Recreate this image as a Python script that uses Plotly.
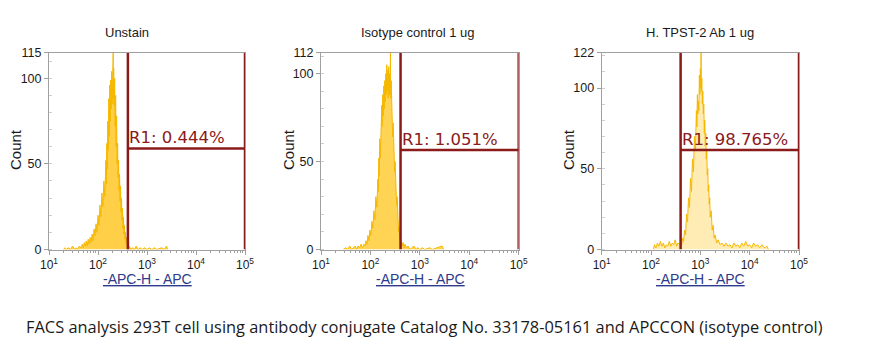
import plotly.graph_objects as go

# ---------------- data ----------------
titles = ["Unstain", "Isotype control 1 ug", "H. TPST-2 Ab 1 ug"]
ymax = [115, 112, 122]
gate_lo_log = [2.61, 2.61, 2.60]
gate_hi_log = [5.0, 5.0, 5.0]
gate_level = [59, 56.6, 61.6]
gate_text = ["R1: 0.444%", "R1: 1.051%", "R1: 98.765%"]
x_tick_labels = ["10<sup>1</sup>", "10<sup>2</sup>", "10<sup>3</sup>", "10<sup>4</sup>", "10<sup>5</sup>"]
x_axis_title = "-APC-H - APC"
y_axis_title = "Count"
caption = "FACS analysis 293T cell using antibody conjugate Catalog No. 33178-05161 and APCCON (isotype control)"

lg1 = [1.30, 1.32, 1.35, 1.40, 1.44, 1.48, 1.52, 1.55, 1.58, 1.62, 1.65, 1.68, 1.70, 1.72, 1.74, 1.76, 1.78,
       1.80, 1.82, 1.84, 1.86, 1.88, 1.90, 1.92, 1.94, 1.96, 1.98, 2.00, 2.02, 2.04, 2.06, 2.08, 2.10, 2.12,
       2.14, 2.16, 2.17, 2.18, 2.19, 2.20, 2.21, 2.22, 2.23, 2.24, 2.25, 2.26, 2.27, 2.28, 2.29, 2.30, 2.305,
       2.31, 2.315, 2.32, 2.33, 2.34, 2.35, 2.36, 2.37, 2.38, 2.39, 2.40, 2.41, 2.42, 2.43, 2.44, 2.45, 2.46,
       2.47, 2.48, 2.49, 2.50, 2.51, 2.52, 2.53, 2.54, 2.55, 2.56, 2.57, 2.58, 2.59, 2.60, 2.62, 2.64, 2.67,
       2.70, 2.74, 2.78, 2.82, 2.86, 2.90, 2.95, 3.00, 3.05, 3.10, 3.15, 3.20, 3.30, 3.35, 3.40, 3.42]
cnt1 = [0, 1, 0, 1, 0, 2, 0, 1, 0, 2, 1, 3, 1, 4, 2, 5, 2,
        6, 3, 7, 4, 9, 5, 12, 8, 15, 10, 20, 14, 26, 19, 33, 25, 40,
        31, 52, 38, 62, 47, 75, 58, 88, 66, 96, 75, 99, 82, 104, 85, 108, 90,
        115, 88, 106, 84, 100, 72, 90, 60, 78, 50, 62, 42, 52, 34, 44, 28, 37,
        22, 30, 17, 24, 12, 19, 9, 14, 6, 10, 4, 7, 2, 4, 1, 2, 0,
        1, 0, 2, 0, 1, 0, 1, 0, 1, 0, 1, 0, 1, 0, 2, 0]

lg2 = [1.45, 1.50, 1.54, 1.58, 1.62, 1.66, 1.69, 1.72, 1.75, 1.78, 1.81, 1.84, 1.87, 1.89, 1.91, 1.93, 1.95,
       1.97, 1.99, 2.01, 2.03, 2.05, 2.07, 2.09, 2.11, 2.13, 2.15, 2.16, 2.17, 2.18, 2.19, 2.20, 2.21, 2.22,
       2.23, 2.24, 2.25, 2.26, 2.27, 2.28, 2.29, 2.30, 2.31, 2.32, 2.33, 2.34, 2.35, 2.36, 2.37, 2.38, 2.39,
       2.40, 2.405, 2.41, 2.42, 2.43, 2.44, 2.45, 2.46, 2.47, 2.48, 2.49, 2.50, 2.51, 2.52, 2.53, 2.54, 2.55,
       2.56, 2.57, 2.58, 2.59, 2.60, 2.61, 2.62, 2.64, 2.66, 2.68, 2.70, 2.73, 2.76, 2.80, 2.84, 2.88, 2.92,
       2.96, 3.00, 3.05, 3.10, 3.20, 3.25, 3.45, 3.48]
cnt2 = [0, 1, 0, 2, 0, 1, 2, 0, 2, 1, 3, 1, 3, 2, 5, 3, 8,
        5, 11, 8, 16, 12, 22, 17, 30, 24, 40, 33, 52, 42, 63, 52, 72, 62,
        82, 70, 88, 76, 93, 80, 96, 84, 100, 88, 105, 90, 102, 86, 104, 88, 100,
        92, 112, 86, 96, 78, 86, 64, 72, 54, 60, 44, 50, 34, 38, 25, 30, 17,
        20, 10, 13, 6, 8, 3, 5, 2, 4, 1, 3, 1, 2, 0, 1, 2, 0,
        1, 0, 1, 0, 1, 0, 2, 0]

lg3 = [2.05, 2.07, 2.10, 2.13, 2.16, 2.19, 2.22, 2.25, 2.28, 2.31, 2.34, 2.37, 2.40, 2.43, 2.46, 2.49, 2.52,
       2.55, 2.58, 2.60, 2.62, 2.64, 2.66, 2.68, 2.70, 2.72, 2.74, 2.76, 2.78, 2.80, 2.82, 2.84, 2.86, 2.88,
       2.90, 2.92, 2.93, 2.94, 2.95, 2.96, 2.97, 2.98, 2.99, 3.00, 3.01, 3.015, 3.02, 3.03, 3.04, 3.05, 3.06,
       3.07, 3.08, 3.09, 3.10, 3.11, 3.12, 3.13, 3.14, 3.15, 3.16, 3.17, 3.18, 3.19, 3.20, 3.22, 3.24, 3.26,
       3.28, 3.30, 3.33, 3.36, 3.40, 3.44, 3.48, 3.52, 3.56, 3.60, 3.64, 3.68, 3.72, 3.76, 3.80, 3.84, 3.88,
       3.92, 3.96, 4.00, 4.04, 4.08, 4.12, 4.16, 4.20, 4.25, 4.30, 4.35, 4.38]
cnt3 = [0, 3, 1, 4, 2, 5, 2, 4, 1, 3, 2, 5, 2, 4, 3, 6, 2,
        4, 3, 5, 3, 7, 5, 12, 9, 22, 17, 32, 26, 44, 36, 56, 48, 70,
        62, 86, 76, 96, 84, 92, 86, 108, 96, 112, 100, 122, 98, 106, 90, 98, 84,
        90, 72, 80, 64, 72, 56, 62, 46, 50, 36, 40, 28, 32, 20, 24, 12, 15,
        7, 9, 4, 6, 3, 4, 2, 4, 2, 3, 1, 4, 2, 3, 1, 4, 2,
        5, 2, 3, 1, 4, 2, 3, 1, 3, 1, 2, 0]

logs = [lg1, lg2, lg3]
counts = [cnt1, cnt2, cnt3]

# ---------------- layout geometry (pixels) ----------------
W, H = 886, 356
px_x = [(49, 245), (321, 518.7), (601.7, 799)]
px_y = (52.5, 249.5)
title_cx = [127, 417, 700]
count_cx = [15, 288, 568]
xtitle_cx = [147, 420, 700]

HIST_LINE = "#F5B800"
HIST_FILL = ["rgba(255,192,10,0.75)", "rgba(255,192,10,0.70)", "rgba(255,200,40,0.35)"]
GATE = "#8B1A1A"
AXIS_GRAY = "#A0A0A0"
TEXT = "#1a1a1a"
NAVY = "#2E3A8C"

fig = go.Figure()
layout = dict(width=W, height=H, margin=dict(l=0, r=0, t=0, b=0, autoexpand=False),
              paper_bgcolor="white", plot_bgcolor="white", showlegend=False)

minor_x = [m * 10 ** d for d in range(1, 5) for m in range(2, 10)]
tickvals_x = [10, 100, 1000, 10000, 100000]

annotations = []
for i in range(3):
    sx = "" if i == 0 else str(i + 1)
    xa, ya = "x" + sx, "y" + sx
    xs = [10 ** v for v in logs[i]]
    fig.add_trace(go.Scatter(x=xs, y=counts[i], mode="lines", xaxis=xa, yaxis=ya,
                             line=dict(color=HIST_LINE, width=1), fill="tozeroy",
                             fillcolor=HIST_FILL[i], hoverinfo="skip"))
    # gate
    glo, ghi = 10 ** gate_lo_log[i], 10 ** gate_hi_log[i]
    fig.add_trace(go.Scatter(x=[glo, glo, None, ghi, ghi, None, glo, ghi],
                             y=[0, ymax[i], None, 0, ymax[i], None, gate_level[i], gate_level[i]],
                             mode="lines", xaxis=xa, yaxis=ya, cliponaxis=False,
                             line=dict(color=GATE, width=2.5), hoverinfo="skip"))
    dom_x = [px_x[i][0] / W, px_x[i][1] / W]
    dom_y = [1 - px_y[1] / H, 1 - px_y[0] / H]
    layout["xaxis" + sx] = dict(
        domain=dom_x, anchor=ya, type="log", range=[1, 5], automargin=False,
        tickmode="array", tickvals=tickvals_x, ticktext=x_tick_labels,
        ticks="outside", ticklen=4, tickcolor=AXIS_GRAY, showgrid=False, zeroline=False,
        showline=True, linecolor=AXIS_GRAY, linewidth=1, mirror=True,
        tickfont=dict(family="Liberation Sans, Arial", size=12, color=TEXT),
        minor=dict(tickmode="array", tickvals=minor_x, ticks="outside", ticklen=2,
                   tickcolor=AXIS_GRAY, showgrid=False),
    )
    layout["yaxis" + sx] = dict(
        domain=dom_y, anchor=xa, range=[0, ymax[i]], automargin=False,
        tickmode="array", tickvals=[0, 50, 100, ymax[i]],
        ticks="outside", ticklen=4, tickcolor=AXIS_GRAY, showgrid=False, zeroline=False,
        showline=True, linecolor=AXIS_GRAY, linewidth=1, mirror=True,
        tickfont=dict(family="Liberation Sans, Arial", size=12.5, color=TEXT),
        minor=dict(dtick=10, ticks="inside", ticklen=3, tickcolor="#D0D0D0", showgrid=False),
    )
    # gate label
    annotations.append(dict(x=gate_lo_log[i], y=gate_level[i], xref=xa, yref=ya,
                            text=gate_text[i], showarrow=False, xanchor="left", yanchor="bottom",
                            xshift=-1, yshift=-1,
                            font=dict(family="DejaVu Sans, Verdana", size=16.5, color=GATE)))
    # panel title
    annotations.append(dict(x=title_cx[i] / W, y=1 - 32 / H, xref="paper", yref="paper",
                            text=titles[i], showarrow=False, xanchor="center", yanchor="middle",
                            font=dict(family="Liberation Sans, Arial", size=13, color=TEXT)))
    # y title
    annotations.append(dict(x=count_cx[i] / W, y=1 - 150 / H, xref="paper", yref="paper",
                            text=y_axis_title, showarrow=False, textangle=-90,
                            xanchor="center", yanchor="middle",
                            font=dict(family="Liberation Sans, Arial", size=15, color=TEXT)))
    # x title
    annotations.append(dict(x=xtitle_cx[i] / W, y=1 - 279 / H, xref="paper", yref="paper",
                            text="<u>" + x_axis_title + "</u>", showarrow=False,
                            xanchor="center", yanchor="middle",
                            font=dict(family="Liberation Sans, Arial", size=14, color=NAVY)))

annotations.append(dict(x=424 / W, y=1 - 326 / H, xref="paper", yref="paper", text=caption,
                        showarrow=False, xanchor="center", yanchor="middle",
                        font=dict(family="Open Sans", size=16.4, color=TEXT)))

layout["annotations"] = annotations
fig.update_layout(**layout)
fig.write_html("out.html", config={"displayModeBar": False},
               post_script="document.body.style.margin='0';document.body.style.overflow='hidden';")
